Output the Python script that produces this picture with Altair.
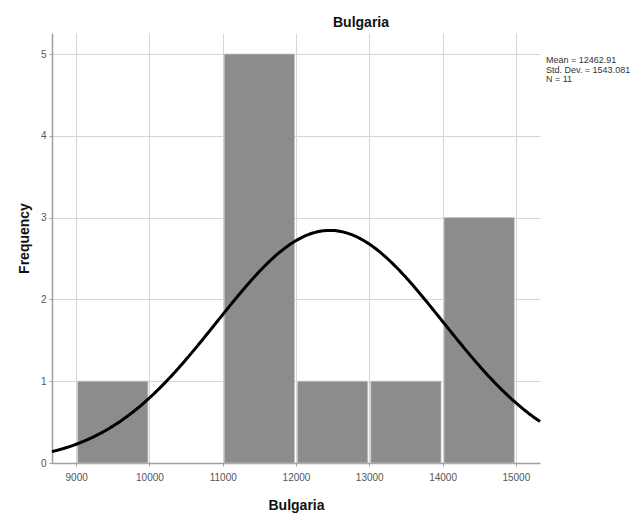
import altair as alt
import pandas as pd

# Histogram bins (lower edge, upper edge) and counts
bin_start = [9000, 10000, 11000, 12000, 13000, 14000]
bin_end = [10000, 11000, 12000, 13000, 14000, 15000]
counts = [1, 0, 5, 1, 1, 3]

# Summary statistics shown in the corner and used for the normal curve
mean = 12462.91
std_dev = 1543.081
n_obs = 11
bin_width = 1000

stats_lines = ["Mean = 12462.91", "Std. Dev. = 1543.081", "N = 11"]

x_domain = [8670, 15330]
y_domain = [0, 5.257]

FONT = "Liberation Sans"

bars_df = pd.DataFrame({"start": bin_start, "end": bin_end, "count": counts})
bars_df = bars_df[bars_df["count"] > 0]

x_scale = alt.Scale(domain=x_domain, nice=False, zero=False)
y_scale = alt.Scale(domain=y_domain, nice=False)

bars = alt.Chart(bars_df).mark_bar(
    color="#8c8c8c", xOffset=1.5, x2Offset=-1.5, stroke="#c4c4c4", strokeWidth=0.8
).encode(
    x=alt.X(
        "start:Q",
        scale=x_scale,
        title="Bulgaria",
        axis=alt.Axis(values=[9000, 10000, 11000, 12000, 13000, 14000, 15000], format="d"),
    ),
    x2="end:Q",
    y=alt.Y(
        "count:Q",
        scale=y_scale,
        title="Frequency",
        axis=alt.Axis(
            values=[0, 1, 2, 3, 4, 5], format="d",
            titleX=-28, titleY=205, titleAngle=270,
            titleAlign="center", titleBaseline="middle",
        ),
    ),
    y2=alt.datum(0),
)

# Normal curve scaled to counts: N * bin width * pdf(x)
curve = alt.Chart(alt.sequence(x_domain[0], x_domain[1] + 1, 20, as_="x")).transform_calculate(
    y=f"{n_obs * bin_width} / ({std_dev} * sqrt(2 * PI)) * exp(-0.5 * pow((datum.x - {mean}) / {std_dev}, 2))"
).mark_line(color="black", strokeWidth=3).encode(
    x=alt.X("x:Q", scale=x_scale),
    y=alt.Y("y:Q", scale=y_scale),
)

stats_df = pd.DataFrame({"line": stats_lines, "i": list(range(len(stats_lines)))})
stats = alt.Chart(stats_df).transform_calculate(
    py="27 + datum.i * 9.5"
).mark_text(
    align="left", baseline="middle", font=FONT, fontSize=9, color="#333333"
).encode(
    x=alt.value(494),
    y=alt.Y("py:Q", scale=None),
    text="line:N",
)

chart = alt.layer(bars, curve, stats).properties(
    width=488,
    height=430,
    autosize=alt.AutoSizeParams(type="none"),
    padding={"left": 52, "top": 33, "right": 90, "bottom": 55},
    title=alt.TitleParams(
        "Bulgaria", font=FONT, fontSize=14, fontWeight="bold",
        color="#111111", anchor="middle", dx=65, offset=3,
    ),
).configure_view(stroke=None).configure_axis(
    labelFont=FONT,
    labelFontSize=10,
    labelColor="#555555",
    titleFont=FONT,
    titleFontSize=14,
    titleFontWeight="bold",
    titleColor="#111111",
    domainColor="#a0a0a0",
    domainWidth=1.5,
    gridColor="#d6d6d6",
    gridWidth=1,
    tickColor="#a0a0a0",
    tickSize=3,
).configure_axisX(
    labelPadding=6, titlePadding=16,
).configure_axisY(
    labelPadding=3,
)

chart.save("out.html", embed_options={"renderer": "svg", "actions": False})
